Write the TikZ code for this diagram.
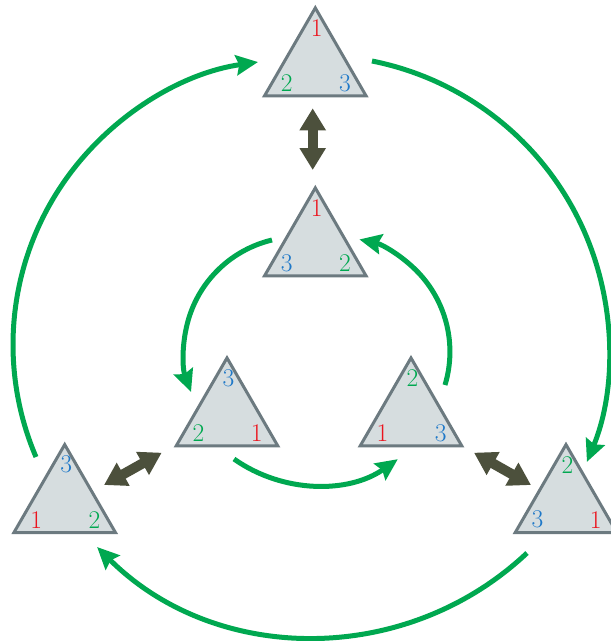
\documentclass[tikz,border=0pt]{standalone}
\usetikzlibrary{shapes.geometric,arrows.meta,calc}
\definecolor{tfill}{RGB}{214,221,223}
\definecolor{tdraw}{RGB}{108,122,128}
\definecolor{gr}{RGB}{0,168,80}
\definecolor{rd}{RGB}{235,20,30}
\definecolor{bl}{RGB}{30,120,200}
\definecolor{dk}{RGB}{76,80,60}
\tikzset{
  tri/.style={regular polygon, regular polygon sides=3, minimum size=117.2pt,
    inner sep=0pt, outer sep=0pt, fill=tfill, draw=tdraw, line width=3pt},
  lbl/.style={inner sep=0pt, font=\fontsize{25.5}{30}\selectfont},
  garrow/.style={draw=gr, line width=5pt, -{Stealth[length=22pt,width=20pt,inset=3pt]}},
  darrow/.style={draw=dk, line width=10pt,
    {Triangle[length=22pt,width=25pt]}-{Triangle[length=22pt,width=25pt]}},
}
\newcommand\mytri[6]{%
  \node[tri] (#1) at (#2,#3) {};
  \node[lbl] (#1t) at ($(#1)+(1.5,-38.5)$) {#4};
  \node[lbl] (#1l) at ($(#1)+(-28.5,16.5)$) {#5};
  \node[lbl] (#1r) at ($(#1)+(29.7,16.5)$) {#6};
}
\newcommand\rO{\textcolor{rd}{1}}
\newcommand\gT{\textcolor{gr}{2}}
\newcommand\bT{\textcolor{bl}{3}}
\begin{document}
\begin{tikzpicture}[x=1pt,y=1pt,yscale=-1]
\useasboundingbox (0,0) rectangle (611,641);
\clip (0,0) rectangle (611,641);
% triangles
\mytri{T1}{315.3}{66.5}{\rO}{\gT}{\bT}
\mytri{T2}{315.3}{246.5}{\rO}{\bT}{\gT}
\mytri{T3}{227}{416.5}{\bT}{\gT}{\rO}
\mytri{T4}{411}{416.5}{\gT}{\rO}{\bT}
\mytri{T5}{64.7}{503.2}{\bT}{\rO}{\gT}
\mytri{T6}{566}{503.2}{\gT}{\bT}{\rO}
% double arrows
\coordinate (v1) at (312.7,108.3);
\coordinate (v2) at (312.7,170);
\coordinate (l1) at (104,485);
\coordinate (l2) at (161.7,452.7);
\coordinate (r1) at (474,452.7);
\coordinate (r2) at (531,485);
\draw[darrow] (v1) -- (v2);
\draw[darrow] (l1) -- (l2);
\draw[darrow] (r1) -- (r2);
% outer green arcs
\coordinate (oL) at (36,457);
\coordinate (oR) at (372,61);
\coordinate (oB) at (527,553);
\draw[garrow] (oL) arc[start angle=156.85, end angle=261.83, radius=285.6];
\draw[garrow] (oR) arc[start angle=-78.76, end angle=22.37, radius=294.5];
\draw[garrow] (oB) arc[start angle=46.73, end angle=134.87, radius=309.1];
% inner green arcs
\coordinate (iL) at (272,240);
\coordinate (iR) at (445,385);
\coordinate (iB) at (234,459);
\draw[garrow] (iL) arc[start angle=256.57, end angle=159.53, radius=114.9];
\draw[garrow] (iR) arc[start angle=16.84, end angle=-77.75, radius=114.9];
\draw[garrow] (iB) arc[start angle=125.2, end angle=54.9, radius=142.3];
\end{tikzpicture}
\end{document}
